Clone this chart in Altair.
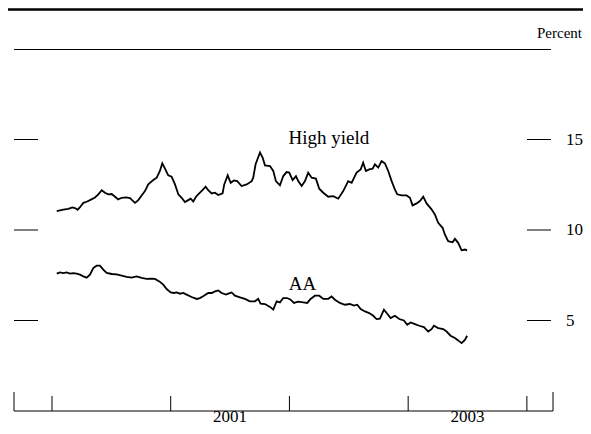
import altair as alt
import pandas as pd

# ---- data (decimal years, percent) ----
hy_year = [
    2000.040, 2000.095, 2000.137, 2000.171, 2000.194, 2000.216, 2000.236, 2000.264, 2000.292, 2000.320,
    2000.362, 2000.390, 2000.419, 2000.446, 2000.474, 2000.503, 2000.531, 2000.558, 2000.587, 2000.623,
    2000.657, 2000.699, 2000.727, 2000.755, 2000.783, 2000.811, 2000.853, 2000.882, 2000.909, 2000.929,
    2000.952, 2000.979, 2001.008, 2001.036, 2001.064, 2001.092, 2001.120, 2001.148, 2001.168, 2001.190,
    2001.213, 2001.240, 2001.274, 2001.294, 2001.316, 2001.345, 2001.373, 2001.400, 2001.437, 2001.451,
    2001.480, 2001.505, 2001.533, 2001.560, 2001.597, 2001.640, 2001.682, 2001.695, 2001.715, 2001.752,
    2001.774, 2001.794, 2001.836, 2001.864, 2001.886, 2001.920, 2001.948, 2001.976, 2001.998, 2002.027,
    2002.055, 2002.074, 2002.103, 2002.131, 2002.158, 2002.187, 2002.223, 2002.251, 2002.285, 2002.327,
    2002.369, 2002.411, 2002.453, 2002.495, 2002.524, 2002.566, 2002.600, 2002.621, 2002.644, 2002.672,
    2002.701, 2002.720, 2002.748, 2002.776, 2002.804, 2002.832, 2002.861, 2002.888, 2002.908, 2002.945,
    2002.987, 2003.015, 2003.037, 2003.071, 2003.099, 2003.127, 2003.155, 2003.197, 2003.225, 2003.253,
    2003.290, 2003.309, 2003.337, 2003.374, 2003.394, 2003.421, 2003.450, 2003.478, 2003.497,
]
hy_value = [
    11.04, 11.13, 11.17, 11.25, 11.21, 11.12, 11.26, 11.50, 11.56, 11.65,
    11.80, 11.97, 12.20, 12.06, 11.97, 11.99, 11.84, 11.69, 11.78, 11.80,
    11.76, 11.50, 11.65, 11.91, 12.15, 12.52, 12.76, 12.89, 13.26, 13.68,
    13.39, 13.02, 12.94, 12.52, 11.97, 11.78, 11.54, 11.65, 11.73, 11.58,
    11.84, 12.02, 12.24, 12.39, 12.20, 12.02, 12.06, 11.93, 12.02, 12.52,
    13.02, 12.61, 12.74, 12.70, 12.43, 12.52, 12.70, 12.89, 13.63, 14.28,
    14.00, 13.57, 13.53, 13.26, 12.70, 12.47, 12.98, 13.20, 13.17, 12.76,
    12.98, 12.70, 12.43, 12.70, 13.17, 12.89, 12.84, 12.28, 12.06, 11.84,
    11.87, 11.73, 12.15, 12.70, 12.61, 13.17, 13.35, 13.72, 13.26, 13.35,
    13.39, 13.63, 13.45, 13.81, 13.68, 13.26, 12.70, 12.24, 11.97, 11.91,
    11.91, 11.78, 11.36, 11.47, 11.60, 11.84, 11.47, 11.14, 10.86, 10.40,
    10.12, 9.75, 9.38, 9.32, 9.51, 9.29, 8.88, 8.92, 8.88,
]
aa_year = [
    2000.040, 2000.067, 2000.095, 2000.124, 2000.152, 2000.179, 2000.208, 2000.236, 2000.264, 2000.292,
    2000.320, 2000.348, 2000.376, 2000.404, 2000.432, 2000.461, 2000.503, 2000.545, 2000.587, 2000.629,
    2000.671, 2000.713, 2000.755, 2000.797, 2000.840, 2000.867, 2000.904, 2000.937, 2000.966, 2001.000,
    2001.027, 2001.050, 2001.078, 2001.106, 2001.134, 2001.176, 2001.219, 2001.246, 2001.280, 2001.316,
    2001.345, 2001.373, 2001.400, 2001.429, 2001.465, 2001.485, 2001.513, 2001.541, 2001.583, 2001.625,
    2001.667, 2001.709, 2001.737, 2001.757, 2001.794, 2001.836, 2001.864, 2001.892, 2001.920, 2001.948,
    2001.981, 2002.010, 2002.038, 2002.074, 2002.116, 2002.150, 2002.178, 2002.215, 2002.251, 2002.285,
    2002.327, 2002.355, 2002.383, 2002.425, 2002.467, 2002.509, 2002.543, 2002.571, 2002.600, 2002.636,
    2002.672, 2002.706, 2002.734, 2002.762, 2002.796, 2002.824, 2002.852, 2002.888, 2002.925, 2002.964,
    2002.992, 2003.021, 2003.057, 2003.093, 2003.133, 2003.169, 2003.197, 2003.217, 2003.253, 2003.295,
    2003.324, 2003.357, 2003.394, 2003.421, 2003.450, 2003.478, 2003.497,
]
aa_value = [
    7.59, 7.66, 7.62, 7.66, 7.59, 7.62, 7.59, 7.53, 7.44, 7.37,
    7.53, 7.90, 8.03, 8.03, 7.81, 7.63, 7.57, 7.55, 7.48, 7.41,
    7.37, 7.44, 7.35, 7.30, 7.31, 7.30, 7.16, 6.98, 6.74, 6.55,
    6.52, 6.55, 6.48, 6.52, 6.43, 6.30, 6.19, 6.24, 6.37, 6.52,
    6.52, 6.61, 6.66, 6.52, 6.43, 6.48, 6.55, 6.37, 6.28, 6.19,
    6.06, 6.06, 6.19, 5.93, 5.91, 5.75, 5.60, 6.06, 6.00, 6.24,
    6.24, 6.15, 5.97, 6.04, 6.00, 5.97, 6.19, 6.37, 6.37, 6.19,
    6.20, 6.33, 6.15, 5.97, 5.87, 5.91, 5.82, 5.87, 5.63, 5.50,
    5.41, 5.26, 5.08, 5.10, 5.60, 5.37, 5.13, 5.26, 5.08, 5.00,
    4.76, 4.89, 4.80, 4.71, 4.64, 4.39, 4.52, 4.71, 4.58, 4.53,
    4.39, 4.16, 4.03, 3.90, 3.75, 3.93, 4.16,
]

series_labels = ["High yield", "AA"]
label_year = [2002.333, 2002.109]
label_value = [15.07, 7.04]

y_ticks = [5, 10, 15]
y_tick_labels = ["5", "10", "15"]
year_ticks = [2000, 2001, 2002, 2003, 2004]
x_domain = [1999.68, 2004.22]
y_domain = [0, 20]
year_label_pos = [2001.5, 2003.5]
year_labels = ["2001", "2003"]
unit_label = "Percent"

# ---- tables ----
df = pd.concat([
    pd.DataFrame({"year": hy_year, "value": hy_value, "series": "High yield"}),
    pd.DataFrame({"year": aa_year, "value": aa_value, "series": "AA"}),
])
lab_df = pd.DataFrame({"text": series_labels, "year": label_year, "value": label_value})
ytick_df = pd.DataFrame({"v": y_ticks, "label": y_tick_labels})
xlab_df = pd.DataFrame({"t": year_label_pos, "label": year_labels})

W, H = 539, 362
FONT = "Liberation Serif"

xs = alt.Scale(domain=x_domain, nice=False, zero=False)
ys = alt.Scale(domain=y_domain, nice=False)
X = lambda f: alt.X(f, scale=xs, axis=None)
Y = lambda f: alt.Y(f, scale=ys, axis=None)

lines = alt.Chart(df).mark_line(color="black", strokeWidth=1.8).encode(
    x=X("year:Q"), y=Y("value:Q"), detail="series:N")

left_ticks = alt.Chart(ytick_df).mark_rule(color="black", strokeWidth=1).encode(
    y=Y("v:Q"), x=alt.value(0), x2=alt.value(24))

right_ticks = alt.Chart(ytick_df).mark_rule(color="black", strokeWidth=1).encode(
    y=Y("v:Q"), x=alt.value(W - 26), x2=alt.value(W - 2))

right_labels = alt.Chart(ytick_df).mark_text(
    font=FONT, fontSize=17, color="black", align="left", baseline="middle").encode(
    y=Y("v:Q"), x=alt.value(W + 13), text="label:N")

x_line = alt.Chart(pd.DataFrame({"a": [0]})).mark_rule(color="black", strokeWidth=1).encode(
    x=alt.value(0), x2=alt.value(W), y=alt.value(H))

yr_ticks = alt.Chart(pd.DataFrame({"t": year_ticks})).mark_rule(color="black", strokeWidth=1).encode(
    x=X("t:Q"), y=alt.value(H), y2=alt.value(H - 15))

end_ticks = alt.Chart(pd.DataFrame({"t": x_domain})).mark_rule(color="black", strokeWidth=1).encode(
    x=X("t:Q"), y=alt.value(H), y2=alt.value(H - 19))

x_labels = alt.Chart(xlab_df).mark_text(
    font=FONT, fontSize=17, color="black", align="center", baseline="alphabetic").encode(
    x=X("t:Q"), y=alt.value(H + 11), text="label:N")

top_frame = alt.Chart(pd.DataFrame({"a": [0]})).mark_rule(color="black", strokeWidth=1).encode(
    x=alt.value(0), x2=alt.value(W - 2), y=alt.value(0.5))

top_bar = alt.Chart(pd.DataFrame({"a": [0]})).mark_rule(color="black", strokeWidth=2.5).encode(
    x=alt.value(-6), x2=alt.value(W + 30), y=alt.value(-39.5))

series_text = alt.Chart(lab_df).mark_text(font=FONT, fontSize=19, color="black",
                                          align="center", baseline="middle").encode(
    x=X("year:Q"), y=Y("value:Q"), text="text:N")

unit_text = alt.Chart(pd.DataFrame({"a": [0]})).mark_text(
    font=FONT, fontSize=15, color="black", align="right", baseline="alphabetic").encode(
    x=alt.value(W + 29), y=alt.value(-11.5), text=alt.value(unit_label))

chart = alt.layer(
    top_bar, top_frame, left_ticks, right_ticks, right_labels, x_line, yr_ticks, end_ticks,
    x_labels, lines, series_text, unit_text
).properties(
    width=W, height=H, background="white",
    padding={"left": 6, "top": 41, "right": 30, "bottom": 15},
    autosize=alt.AutoSizeParams(type="none"),
).configure_view(stroke=None)

chart.save("out.html", embed_options={"renderer": "svg", "actions": False})
